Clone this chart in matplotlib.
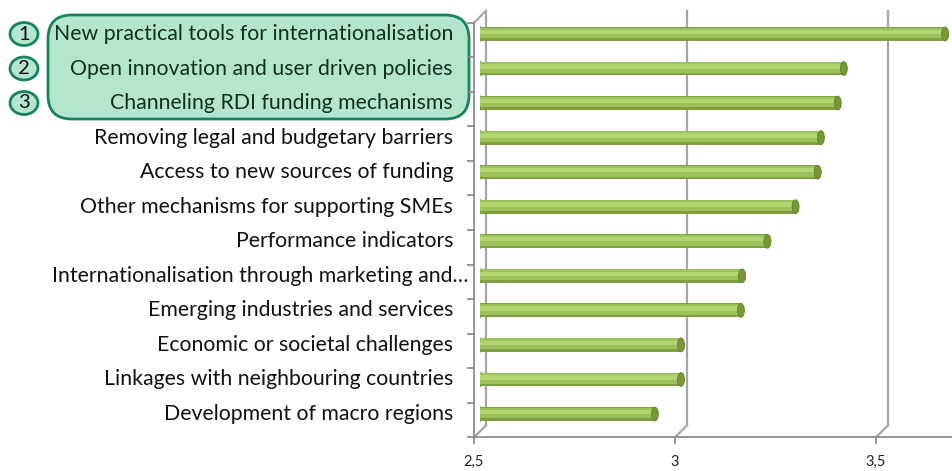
import numpy as np
import matplotlib.pyplot as plt
from matplotlib.patches import Ellipse, FancyBboxPatch

plt.rcParams['font.family'] = ['Lato', 'DejaVu Sans']

# data, top to bottom
labels = ['New practical tools for internationalisation',
          'Open innovation and user driven policies',
          'Channeling RDI funding mechanisms',
          'Removing legal and budgetary barriers',
          'Access to new sources of funding',
          'Other mechanisms for supporting SMEs',
          'Performance indicators',
          'Internationalisation through marketing and\u2026',
          'Emerging industries and services',
          'Economic or societal challenges',
          'Linkages with neighbouring countries',
          'Development of macro regions']
values = [3.657, 3.405, 3.39, 3.348, 3.34, 3.285, 3.215, 3.152, 3.149, 3.0, 3.0, 2.935]
xticks = [2.5, 3.0, 3.5]
xticklabels = ['2,5', '3', '3,5']
top_n = 3

W, H = 952, 471
fig = plt.figure(figsize=(W / 100, H / 100), dpi=100)

# axes = middle depth plane of the 3d chart
x0_px, ytop_px, ybot_px = 480, 16.7, 431.3
xmin = 2.5
xmax = xmin + (W - x0_px) / 402.0
ax = fig.add_axes([x0_px / W, 1 - ybot_px / H, (W - x0_px) / W, (ybot_px - ytop_px) / H])
n = len(values)
ylo, yhi = -0.5, n - 0.5
ax.set_xlim(xmin, xmax)
ax.set_ylim(ylo, yhi)
ax.axis('off')

# depth offsets (6 px) in data units
dx = 6 / 402.0
dy = 6 / 34.55
grid_c = '#a6a6a6'
axis_c = '#8c8c8c'

# back wall gridlines + floor diagonals
for v in xticks:
    ax.plot([v + dx, v + dx], [ylo + dy, yhi + dy], color=grid_c, lw=1.6,
            clip_on=False, zorder=1)
    ax.plot([v - dx, v + dx], [ylo - dy, ylo + dy], color=grid_c, lw=1.6,
            clip_on=False, zorder=1)
# top-left diagonal of the side wall
ax.plot([xmin - dx, xmin + dx], [yhi - dy, yhi + dy], color=grid_c, lw=1.6,
        clip_on=False, zorder=1)

# front axes
ax.plot([xmin - dx, xmax + 0.05], [ylo - dy, ylo - dy], color=axis_c, lw=1.3,
        clip_on=False, zorder=2)
ax.plot([xmin - dx, xmin - dx], [ylo - dy, yhi - dy], color=axis_c, lw=1.3,
        clip_on=False, zorder=2)
tlx = 6 / 402.0
tly = 6 / 34.55
for k in range(n + 1):
    yb = ylo + k - dy
    ax.plot([xmin - dx - tlx, xmin - dx], [yb, yb], color=axis_c, lw=1.3,
            clip_on=False, zorder=2)
for v, t in zip(xticks, xticklabels):
    ax.plot([v - dx, v - dx], [ylo - dy, ylo - dy - tly], color=axis_c, lw=1.3,
            clip_on=False, zorder=2)
    ax.annotate(t, (v - dx, ylo - dy), xytext=(0, -25), textcoords='offset pixels',
                ha='center', va='center', fontsize=10.5, color='#222222',
                annotation_clip=False)

# cylinder bars
pos = np.arange(n)[::-1]
vals = np.array(values)
bh = 0.4
capw = 7 / 402.0
for p, v in zip(pos, vals):
    ax.add_patch(Ellipse((xmin, p), capw, bh, color='#8aab4a', zorder=3))
ax.barh(pos, vals - xmin, left=xmin, height=bh, color='#7f9f41', zorder=4)
ax.barh(pos + 0.03, vals - xmin, left=xmin, height=bh * 0.78, color='#9ec25b', zorder=5)
ax.barh(pos + 0.06, vals - xmin, left=xmin, height=bh * 0.32, color='#b2d572', zorder=6)
for p, v in zip(pos, vals):
    ax.add_patch(Ellipse((v, p), capw, bh, facecolor='#789838', edgecolor='#62802c',
                         lw=0.6, zorder=7))

# category labels
for i, (p, lab) in enumerate(zip(pos, labels)):
    col = '#10301f' if i < top_n else '#111111'
    off = -12 if lab.endswith('\u2026') else -27
    ax.annotate(lab, (xmin, p), xytext=(off, 0), textcoords='offset pixels',
                ha='right', va='center', fontsize=15.3, color=col,
                annotation_clip=False, zorder=10)

# highlight box for the top 3
bx0, by0, bx1, by1 = 48, 15, 469, 119
box = FancyBboxPatch((bx0 / W, 1 - by1 / H), (bx1 - bx0) / W, (by1 - by0) / H,
                     boxstyle='round,pad=0,rounding_size=0.025',
                     transform=fig.transFigure, facecolor='#b4e6cd',
                     edgecolor='#17835c', lw=2, zorder=-1, mutation_aspect=W / H)
fig.patches.append(box)

for i in range(top_n):
    cy = 34 + i * 34.5
    fig.patches.append(Ellipse((24 / W, 1 - cy / H), 28 / W, 23 / H,
                               transform=fig.transFigure, facecolor='#b4e6cd',
                               edgecolor='#17835c', lw=2))
    fig.text(24 / W, 1 - cy / H, str(i + 1), ha='center', va='center',
             fontsize=14.5, color='#111111')

fig.savefig('out.png', dpi=100)
